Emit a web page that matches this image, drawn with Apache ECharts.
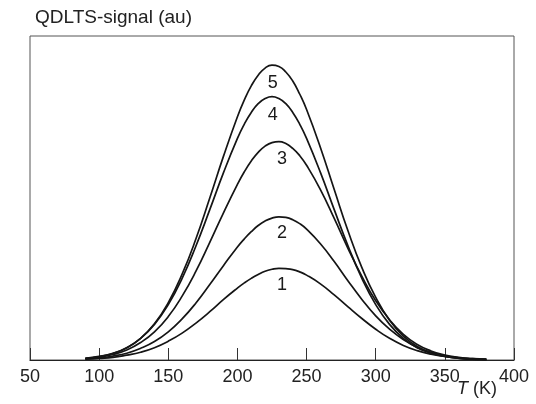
<!DOCTYPE html>
<html>
<head>
<meta charset="utf-8">
<script src="https://cdn.jsdelivr.net/npm/echarts@6/dist/echarts.min.js"></script>
<style>
  html, body { margin: 0; padding: 0; background: #fff; }
  #chart { width: 536px; height: 404px; }
</style>
</head>
<body>
<div id="chart"></div>
<script>
// Temperature grid (K), finer around the peaks
const temps = [90, 100, 110, 120, 130, 140, 150, 160, 170, 180, 190, 200,
               205, 210, 215, 220, 225, 230, 235, 240, 245,
               250, 260, 270, 280, 290, 300, 310, 320, 330, 340, 350, 360, 370, 380];

// QDLTS signal (arbitrary units) for spectra 1..5
const signal1 = [0.24, 0.5, 0.8, 1.5, 2.4, 3.8, 5.8, 8.3, 11.4, 14.9, 18.7, 22.2,
                 23.8, 25.2, 26.4, 27.4, 28.0, 28.3, 28.2, 27.9, 27.2,
                 26.2, 23.5, 20.1, 16.4, 12.8, 9.5, 6.7, 4.5, 2.9, 1.8, 1.1, 0.6, 0.3, 0.2];
const signal2 = [0.33, 0.6, 1.2, 2.1, 3.6, 5.7, 8.7, 12.7, 17.6, 23.3, 29.2, 34.9,
                 37.4, 39.6, 41.5, 42.9, 43.8, 44.2, 44.0, 43.3, 42.1,
                 40.4, 35.9, 30.4, 24.4, 18.7, 13.6, 9.5, 6.3, 3.9, 2.4, 1.3, 0.7, 0.4, 0.2];
const signal3 = [0.46, 0.9, 1.7, 3.1, 5.4, 8.7, 13.4, 19.7, 27.4, 36.3, 45.5, 54.2,
                 58.1, 61.4, 64.1, 66.0, 67.1, 67.4, 66.8, 65.3, 63.1,
                 60.1, 52.6, 43.7, 34.4, 25.8, 18.3, 12.4, 7.9, 4.8, 2.8, 1.5, 0.8, 0.4, 0.2];
const signal4 = [0.52, 1.1, 2.1, 3.8, 6.7, 11.0, 17.1, 25.2, 35.2, 46.4, 57.9, 68.4,
                 72.8, 76.4, 79.1, 80.7, 81.3, 80.7, 79.1, 76.4, 72.8,
                 68.4, 57.9, 46.4, 35.2, 25.2, 17.1, 11.0, 6.7, 3.8, 2.1, 1.1, 0.5, 0.24, 0.1];
const signal5 = [0.48, 1.0, 2.0, 3.8, 6.7, 11.2, 17.7, 26.5, 37.4, 50.0, 63.0, 75.1,
                 80.3, 84.6, 87.9, 90.1, 91.0, 90.6, 88.9, 86.1, 82.1,
                 77.3, 65.6, 52.6, 39.8, 28.5, 19.3, 12.3, 7.4, 4.2, 2.3, 1.2, 0.6, 0.25, 0.1];

// Curve numbers and where each one is written (T, signal)
const curveNames = ['1', '2', '3', '4', '5'];
const nameT = [232.3, 232.3, 232.3, 225.6, 225.6];
const nameV = [23.1, 39.1, 62.0, 75.6, 85.5];

const xTicks = { min: 50, max: 400, step: 50 };

const allSignals = [signal1, signal2, signal3, signal4, signal5];
const FONT = '"Liberation Sans", Arial, Helvetica, sans-serif';

const series = allSignals.map((s, k) => ({
  type: 'line',
  name: curveNames[k],
  data: temps.map((t, i) => [t, s[i]]),
  smooth: 0.5,
  showSymbol: false,
  silent: true,
  lineStyle: { color: '#151515', width: 1.7 },
  z: 2
}));

// Curve numbers, anchored in data coordinates
series.push({
  type: 'scatter',
  silent: true,
  symbol: 'circle',
  symbolSize: 1,
  itemStyle: { color: 'rgba(255,255,255,0)' },
  data: curveNames.map((n, k) => ({ value: [nameT[k], nameV[k]], name: n })),
  label: {
    show: true, position: 'inside', formatter: p => p.name,
    fontFamily: FONT, fontSize: 18, color: '#1a1a1a',
    textBorderWidth: 0, textShadowBlur: 0, opacity: 1
  },
  z: 3
});

const chart = echarts.init(document.getElementById('chart'), null, { renderer: 'canvas' });
chart.setOption({
  animation: false,
  backgroundColor: '#fff',
  grid: {
    left: 30, right: 22, top: 36, bottom: 44,
    show: true, borderColor: '#555', borderWidth: 1, backgroundColor: 'transparent'
  },
  xAxis: {
    type: 'value',
    min: xTicks.min, max: xTicks.max, interval: xTicks.step,
    axisLine: { show: true, lineStyle: { color: '#222', width: 1.2 } },
    axisTick: { show: true, inside: true, length: 12, lineStyle: { color: '#333', width: 1 } },
    axisLabel: { fontFamily: FONT, fontSize: 18, color: '#222', margin: 8 },
    splitLine: { show: false }
  },
  yAxis: {
    type: 'value', min: 0, max: 100,
    axisLine: { show: false }, axisTick: { show: false },
    axisLabel: { show: false }, splitLine: { show: false }
  },
  graphic: [
    {
      type: 'text', left: 35, top: 8,
      style: { text: 'QDLTS-signal (au)', font: '19px ' + FONT, fill: '#222' }
    },
    {
      type: 'text', left: 457, top: 380,
      style: {
        text: '{i|T} (K)',
        font: '18px ' + FONT, fill: '#222',
        rich: { i: { fontStyle: 'italic', fontFamily: FONT, fontSize: 18, fill: '#222' } }
      }
    }
  ],
  series: series
});
</script>
</body>
</html>
